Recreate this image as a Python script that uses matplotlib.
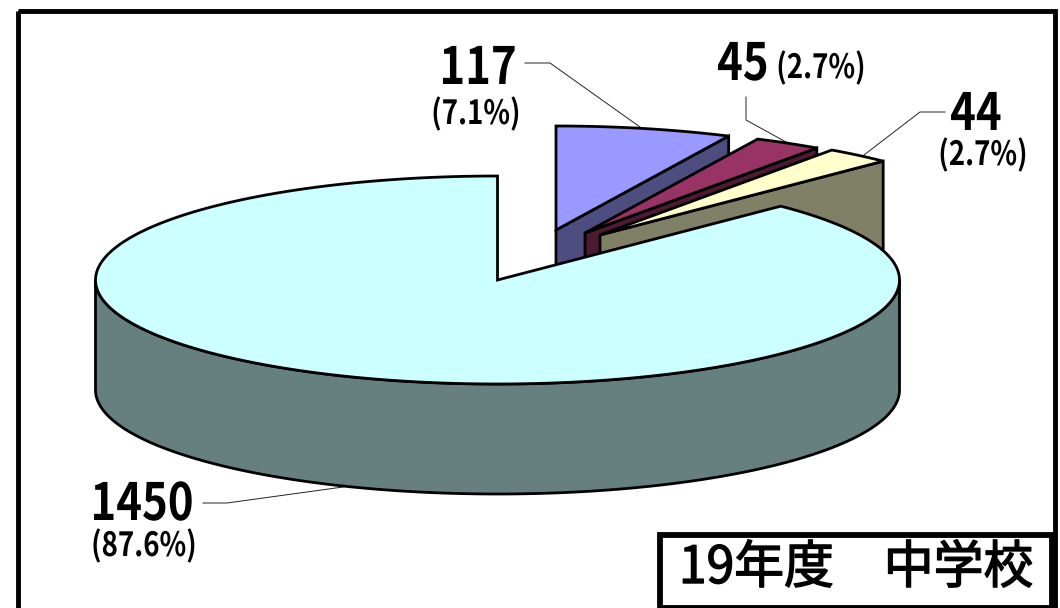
import numpy as np
import matplotlib
matplotlib.use("Agg")
import matplotlib.pyplot as plt
import matplotlib.patheffects as pe
from matplotlib.patches import Polygon, Rectangle
from matplotlib.transforms import Affine2D

# chart data
counts = [117, 45, 44, 1450]
count_labels = ["117", "45", "44", "1450"]
share_labels = ["(7.1%)", "(2.7%)", "(2.7%)", "(87.6%)"]
box_title = "19年度　中学校"

top_colors = ["#9999FF", "#993366", "#FFFFCC", "#CCFFFF"]
side_colors = ["#4D4D80", "#4D1A33", "#808066", "#668080"]

# pie projection, in image pixels
RX, RY, DEPTH = 402, 104, 110
apexes = [(556, 230), (585, 233), (600, 235), (497.5, 280)]

LABEL_FONT = ["Noto Sans CJK JP", "DejaVu Sans"]


class SqueezeX(pe.AbstractPathEffect):
    # no narrow gothic installed, so squeeze the glyphs about their centre
    def __init__(self, sx, stroke=0.0):
        super().__init__()
        self.sx = sx
        self.stroke = stroke

    def draw_path(self, renderer, gc, tpath, affine, rgbFace=None):
        box = tpath.get_extents(affine)
        cx = (box.x0 + box.x1) / 2
        squeezed = affine + Affine2D().translate(-cx, 0).scale(self.sx, 1).translate(cx, 0)
        gc0 = renderer.new_gc()
        gc0.copy_properties(gc)
        if self.stroke:
            gc0.set_linewidth(self.stroke)
            gc0.set_foreground("black")
        renderer.draw_path(gc0, tpath, squeezed, rgbFace)
        gc0.restore()


def rim(apex, a0, a1):
    # a0, a1 are degrees clockwise from 12 o'clock
    t = np.radians(np.linspace(a0, a1, 200))
    return np.column_stack([apex[0] + RX * np.sin(t), apex[1] - RY * np.cos(t)])


fig = plt.figure(figsize=(10.6, 6.08), dpi=100)
ax = fig.add_axes([0, 0, 1, 1])
ax.set_xlim(0, 1060)
ax.set_ylim(608, 0)
ax.axis("off")

# outer frame, its bottom edge is cut off by the image
ax.add_patch(Rectangle((17.5, 10.5), 1037, 700, fill=False, ec="black", lw=3.5, joinstyle="miter"))

edges = np.cumsum([0] + counts) / sum(counts) * 360
z = 2
for i in range(len(counts)):
    a0, a1 = edges[i], edges[i + 1]
    apex = apexes[i]
    arc = rim(apex, a0, a1)
    style = dict(ec="black", lw=2.0, joinstyle="miter")

    if i < 3:
        # cut face seen from the front, runs from apex to the end of the rim
        end = arc[-1]
        face = [apex, end, (end[0], end[1] + DEPTH), (apex[0], apex[1] + DEPTH)]
        ax.add_patch(Polygon(face, fc=side_colors[i], zorder=z, **style))
    else:
        # outer wall of the big slice, front half only
        wall = rim(apex, 90, 270)
        low = wall[::-1] + [0, DEPTH]
        ax.add_patch(Polygon(np.vstack([wall, low]), fc=side_colors[i], zorder=z, **style))
    z += 1
    ax.add_patch(Polygon(np.vstack([[apex], arc]), fc=top_colors[i], zorder=z, **style))
    z += 1

# leader lines
leaders = [
    [(525, 63), (550, 63), (640, 127)],
    [(746, 97), (746, 120), (786, 142)],
    [(945, 112), (920, 112), (864, 155)],
    [(203, 503), (227, 503), (343, 487)],
]
for pts in leaders:
    xs, ys = zip(*pts)
    ax.plot(xs, ys, color="#222222", lw=0.7, zorder=1)

count_pos = [(478, 84), (743, 80), (976, 130), (142, 520)]
share_pos = [(476, 124), (821, 78), (983, 165), (144, 556)]
for i in range(len(counts)):
    ax.text(*count_pos[i], count_labels[i], fontsize=37, fontweight="bold", family=LABEL_FONT,
            ha="center", va="baseline", color="black", zorder=20,
            path_effects=[SqueezeX(0.85)])
    ax.text(*share_pos[i], share_labels[i], fontsize=24, fontweight="bold", family=LABEL_FONT,
            ha="center", va="baseline", color="black", zorder=20,
            path_effects=[SqueezeX(0.83)])

ax.add_patch(Rectangle((660, 534.5), 392, 73, fc="white", ec="black", lw=4.2, joinstyle="miter", zorder=21))
ax.text(856, 583, box_title, fontsize=37, family=LABEL_FONT, fontweight="regular",
        ha="center", va="baseline", color="black", zorder=22,
        path_effects=[SqueezeX(0.97, stroke=1.0)])

fig.savefig("out.png", dpi=100)
